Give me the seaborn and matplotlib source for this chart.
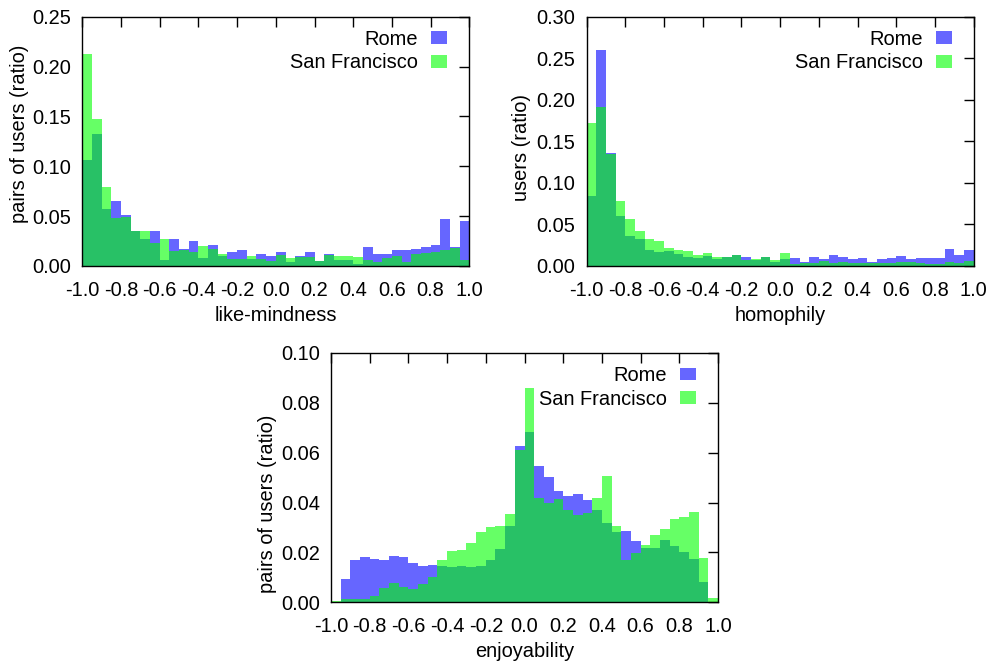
"""Distribution of similarity measures, Rome vs San Francisco"""
import numpy as np
import pandas as pd
import matplotlib
matplotlib.use("Agg")
import matplotlib.pyplot as plt
from matplotlib.patches import Patch
from matplotlib.ticker import MultipleLocator, FormatStrFormatter
import seaborn as sns

sns.set_style("white")
plt.rcParams['font.family'] = ['Liberation Sans', 'DejaVu Sans']
plt.rcParams['axes.unicode_minus'] = False
plt.rcParams['text.color'] = 'black'
plt.rcParams['axes.labelcolor'] = 'black'

# bin heights, 40 bins of width 0.05 on [-1, 1]
like_rome = [0.106, 0.132, 0.057, 0.065, 0.051, 0.035, 0.027, 0.035, 0.006, 0.027,
             0.017, 0.025, 0.008, 0.021, 0.010, 0.014, 0.016, 0.007, 0.012, 0.010,
             0.014, 0.004, 0.010, 0.014, 0.005, 0.012, 0.006, 0.006, 0.002, 0.019,
             0.012, 0.012, 0.016, 0.016, 0.017, 0.019, 0.021, 0.047, 0.019, 0.045]
like_sf = [0.213, 0.147, 0.079, 0.048, 0.049, 0.035, 0.035, 0.023, 0.027, 0.015,
           0.016, 0.014, 0.020, 0.017, 0.012, 0.007, 0.007, 0.010, 0.007, 0.005,
           0.011, 0.008, 0.009, 0.009, 0.005, 0.011, 0.010, 0.010, 0.009, 0.006,
           0.004, 0.008, 0.010, 0.004, 0.012, 0.013, 0.014, 0.016, 0.018, 0.006]

homo_rome = [0.084, 0.260, 0.136, 0.060, 0.036, 0.032, 0.019, 0.017, 0.018, 0.014,
             0.011, 0.010, 0.012, 0.008, 0.011, 0.013, 0.011, 0.007, 0.011, 0.005,
             0.009, 0.010, 0.005, 0.011, 0.008, 0.013, 0.011, 0.008, 0.010, 0.005,
             0.008, 0.010, 0.012, 0.008, 0.010, 0.010, 0.010, 0.020, 0.013, 0.019]
homo_sf = [0.172, 0.191, 0.135, 0.078, 0.057, 0.042, 0.032, 0.030, 0.022, 0.019,
           0.018, 0.013, 0.016, 0.011, 0.011, 0.013, 0.007, 0.008, 0.011, 0.007,
           0.016, 0.002, 0.004, 0.004, 0.006, 0.004, 0.005, 0.004, 0.004, 0.003,
           0.004, 0.004, 0.005, 0.005, 0.004, 0.002, 0.002, 0.005, 0.004, 0.006]

enjoy_rome = [0.0003, 0.0094, 0.0170, 0.0182, 0.0174, 0.0170, 0.0186, 0.0182, 0.0158, 0.0146,
              0.0150, 0.0146, 0.0142, 0.0146, 0.0142, 0.0146, 0.0170, 0.0214, 0.0307, 0.0628,
              0.0684, 0.0548, 0.0503, 0.0447, 0.0427, 0.0435, 0.0411, 0.0371, 0.0319, 0.0282,
              0.0286, 0.0246, 0.0218, 0.0218, 0.0250, 0.0226, 0.0202, 0.0174, 0.0082, 0.0003]
enjoy_sf = [0.0006, 0.0013, 0.0013, 0.0013, 0.0025, 0.0058, 0.0078, 0.0062, 0.0054, 0.0074,
            0.0102, 0.0170, 0.0206, 0.0210, 0.0238, 0.0282, 0.0302, 0.0307, 0.0355, 0.0612,
            0.0859, 0.0419, 0.0399, 0.0415, 0.0371, 0.0351, 0.0359, 0.0419, 0.0507, 0.0307,
            0.0170, 0.0198, 0.0230, 0.0270, 0.0294, 0.0335, 0.0343, 0.0363, 0.0178, 0.0017]

n_bins = 40
bin_w = 2.0 / n_bins
centers = np.linspace(-1.0 + bin_w / 2, 1.0 - bin_w / 2, n_bins)

# data, labels, y range, axes rect, ylabel anchor
panels = [
    (like_rome, like_sf, 'like-mindness', 'pairs of users (ratio)', 0.25, 0.05,
     [0.0830, 0.5982, 0.3901, 0.3766], (-0.139, 0.529)),
    (homo_rome, homo_sf, 'homophily', 'users (ratio)', 0.30, 0.05,
     [0.5914, 0.5982, 0.3901, 0.3766], (-0.145, 0.475)),
    (enjoy_rome, enjoy_sf, 'enjoyability', 'pairs of users (ratio)', 0.10, 0.02,
     [0.3337, 0.0902, 0.3901, 0.3766], (-0.139, 0.395)),
]

blue = '#0000ff'
green = '#00ff00'
fs = 14.4

fig = plt.figure(figsize=(9.92, 6.62), dpi=100)

for rome, sf, xlabel, ylabel, ymax, ystep, pos, ylab_xy in panels:
    ax = fig.add_axes(pos)
    df = pd.DataFrame({'x': centers, 'Rome': rome, 'San Francisco': sf})
    sns.histplot(data=df, x='x', weights='Rome', binwidth=bin_w, binrange=(-1.0, 1.0),
                 ax=ax, color=blue, alpha=0.6, linewidth=0, stat='count')
    sns.histplot(data=df, x='x', weights='San Francisco', binwidth=bin_w, binrange=(-1.0, 1.0),
                 ax=ax, color=green, alpha=0.6, linewidth=0, stat='count')

    ax.set_xlim(-1.0, 1.0)
    ax.set_ylim(0, ymax)
    ax.xaxis.set_major_locator(MultipleLocator(0.2))
    ax.yaxis.set_major_locator(MultipleLocator(ystep))
    ax.xaxis.set_major_formatter(FormatStrFormatter('%.1f'))
    ax.yaxis.set_major_formatter(FormatStrFormatter('%.2f'))
    ax.tick_params(axis='both', direction='in', length=7, width=1, color='black',
                   top=True, right=True, labelsize=fs, labelcolor='black')
    ax.tick_params(axis='x', pad=10.8)
    ax.tick_params(axis='y', pad=8)
    for sp in ax.spines.values():
        sp.set_visible(True)
        sp.set_color('black')
        sp.set_linewidth(1.0)

    ax.set_xlabel(xlabel, fontsize=fs)
    ax.set_ylabel(ylabel, fontsize=fs)
    ax.xaxis.set_label_coords(0.5, -0.160)
    ax.yaxis.set_label_coords(*ylab_xy)

    handles = [Patch(facecolor=blue, alpha=0.6, linewidth=0, label='Rome'),
               Patch(facecolor=green, alpha=0.6, linewidth=0, label='San Francisco')]
    ax.legend(handles=handles, loc='upper right', bbox_to_anchor=(1 - 22 / 387, 1 - 13 / 249),
              frameon=False, markerfirst=False, fontsize=fs, borderpad=0, borderaxespad=0,
              handlelength=0.8, handleheight=0.6, handletextpad=0.65, labelspacing=0.24)

plt.savefig('out.png', dpi=100)
print("saved out.png")
